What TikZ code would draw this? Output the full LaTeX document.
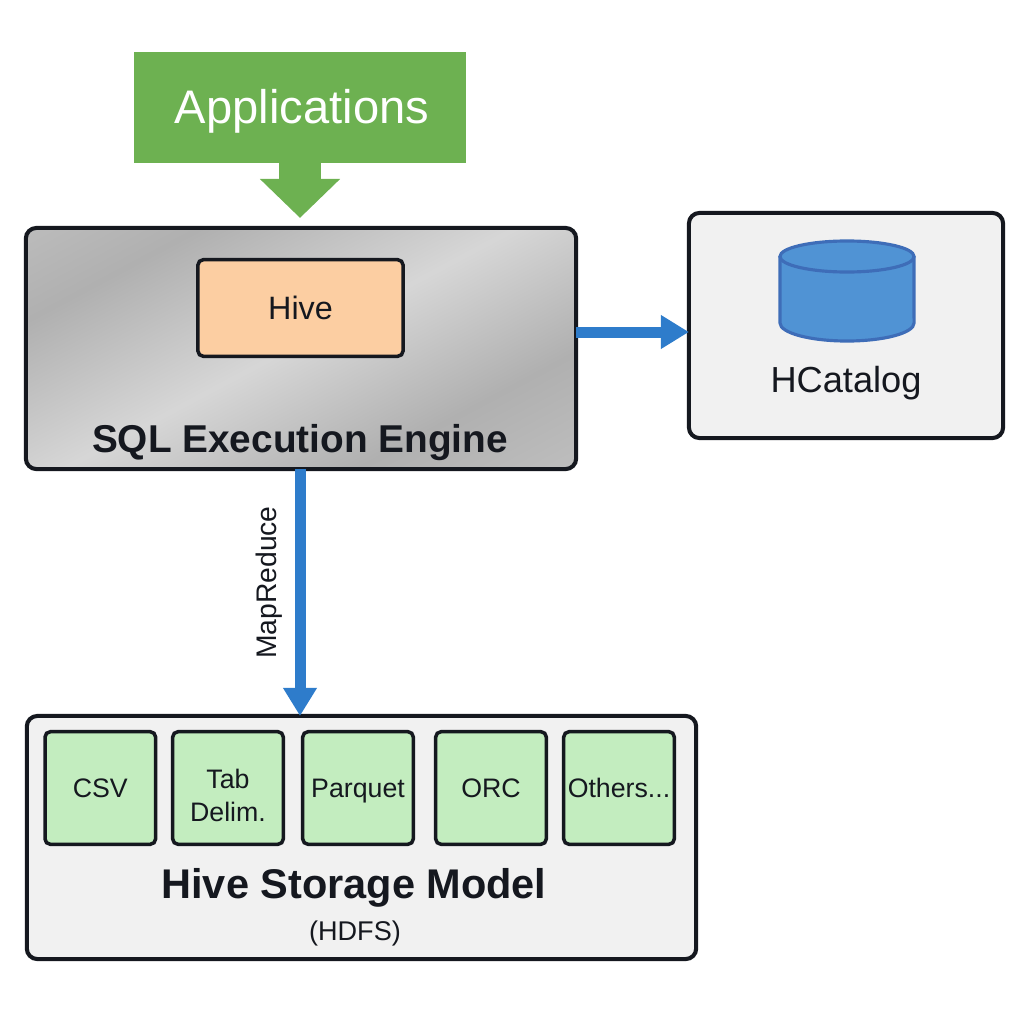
\documentclass[tikz,border=0pt]{standalone}
\usepackage{fontspec}
\setmainfont{Liberation Sans}
\usetikzlibrary{arrows.meta}
\definecolor{appsgreen}{HTML}{6DB151}
\definecolor{flowblue}{HTML}{2E7CCB}
\definecolor{dbblue}{HTML}{5093D4}
\definecolor{dbedge}{HTML}{3E6DB8}
\definecolor{hiveorange}{HTML}{FCCEA2}
\definecolor{panelgray}{HTML}{F1F1F1}
\definecolor{formatgreen}{HTML}{C3EDBF}
\definecolor{inkdark}{HTML}{15181F}
\pgfdeclarehorizontalshading{enginegray}{100bp}{
  color(0bp)=(black!25); color(14.6bp)=(black!25); color(31bp)=(black!31);
  color(50.8bp)=(black!16); color(72bp)=(black!31); color(85bp)=(black!26);
  color(100bp)=(black!24)}
\begin{document}
\begin{tikzpicture}[x=0.01cm, y=-0.01cm,
    panel/.style ={draw=inkdark, line width=1.15pt, rounded corners=3pt, outer sep=0pt, inner sep=0pt},
    format/.style ={draw=inkdark, line width=1pt, rounded corners=1.5pt, fill=formatgreen, outer sep=0pt, inner sep=0pt,
      minimum width=1.105cm, minimum height=1.125cm, text depth=0pt, text=inkdark, font=\fontsize{7.6}{9.4}\selectfont},
    flow/.style ={draw=flowblue, line width=0.11cm, -{Triangle[length=0.28cm, width=0.32cm]}},
    heading/.style ={text=inkdark, inner sep=0pt, font=\fontsize{11.03}{13}\selectfont\bfseries},
    plain/.style ={text=inkdark, inner sep=0pt},
    dbshape/.style ={draw=dbedge, line width=0.9pt, fill=dbblue}]
   \useasboundingbox (0,0) rectangle (1024,1024);

   \node[fill=appsgreen, minimum width=3.32cm, minimum height=1.11cm, inner sep=0pt, outer sep=0pt] (apps) at (300,107.5) {};
   \node[plain, text=white, font=\fontsize{13.4}{16}\selectfont] (appslabel) at (302,111) {Applications};

   \node[panel, shade, shading=enginegray, shading angle=118, minimum width=5.5cm, minimum height=2.41cm] (engine) at (301,348.5) {};
   \node[panel, line width=1pt, rounded corners=1.5pt, fill=hiveorange, minimum width=2.05cm, minimum height=0.965cm,
      text=inkdark, font=\fontsize{9.2}{11}\selectfont] (hive) at (300.5,308) {Hive};
   \node[heading] (enginelabel) at (300,443) {SQL Execution Engine};

   \node[panel, fill=panelgray, minimum width=3.14cm, minimum height=2.25cm] (catalog) at (846,325.5) {};
   \draw[dbshape] (780,256.5) -- (780,323) arc[start angle=180, end angle=360, x radius=0.67cm, y radius=0.18cm] -- (914,256.5);
   \draw[dbshape] (847,256.5) ellipse [x radius=0.67cm, y radius=0.155cm];
   \node[plain, font=\fontsize{10.3}{12}\selectfont] (cataloglabel) at (846,383) {HCatalog};

   \node[panel, fill=panelgray, minimum width=6.69cm, minimum height=2.43cm] (storage) at (361.5,837.5) {};
   \node[format] (csv) at (100.3,788) {CSV};
   \node[format] (tab) at (228,788) {};
   \node[plain, align=center, font=\fontsize{7.6}{9.4}\selectfont] (tablabel) at (228,795) {Tab\\Delim.};
   \node[format] (parquet) at (358,788) {Parquet};
   \node[format] (orc) at (491,788) {ORC};
   \node[format] (others) at (619,788) {Others...};
   \node[heading, font=\fontsize{11.8}{14}\selectfont\bfseries] (storagelabel) at (354,887.5) {Hive Storage Model};
   \node[plain, font=\fontsize{7.7}{9}\selectfont] (hdfs) at (355,933) {(HDFS)};

   \draw[draw=appsgreen, line width=0.41cm, shorten >=0.1cm, -{Triangle[length=0.39cm, width=0.78cm]}] (apps.south) to (apps.south |- engine.north);
   \draw[flow] (engine.east |- 0,332) to (catalog.west |- 0,332);
   \draw[flow] (engine.south -| apps.south) to node[plain, pos=0.46, left=0.12cm, rotate=90, anchor=south, font=\fontsize{8.05}{10}\selectfont] (mapreduce) {MapReduce} (apps.south |- storage.north);

 \end{tikzpicture}
\end{document}
